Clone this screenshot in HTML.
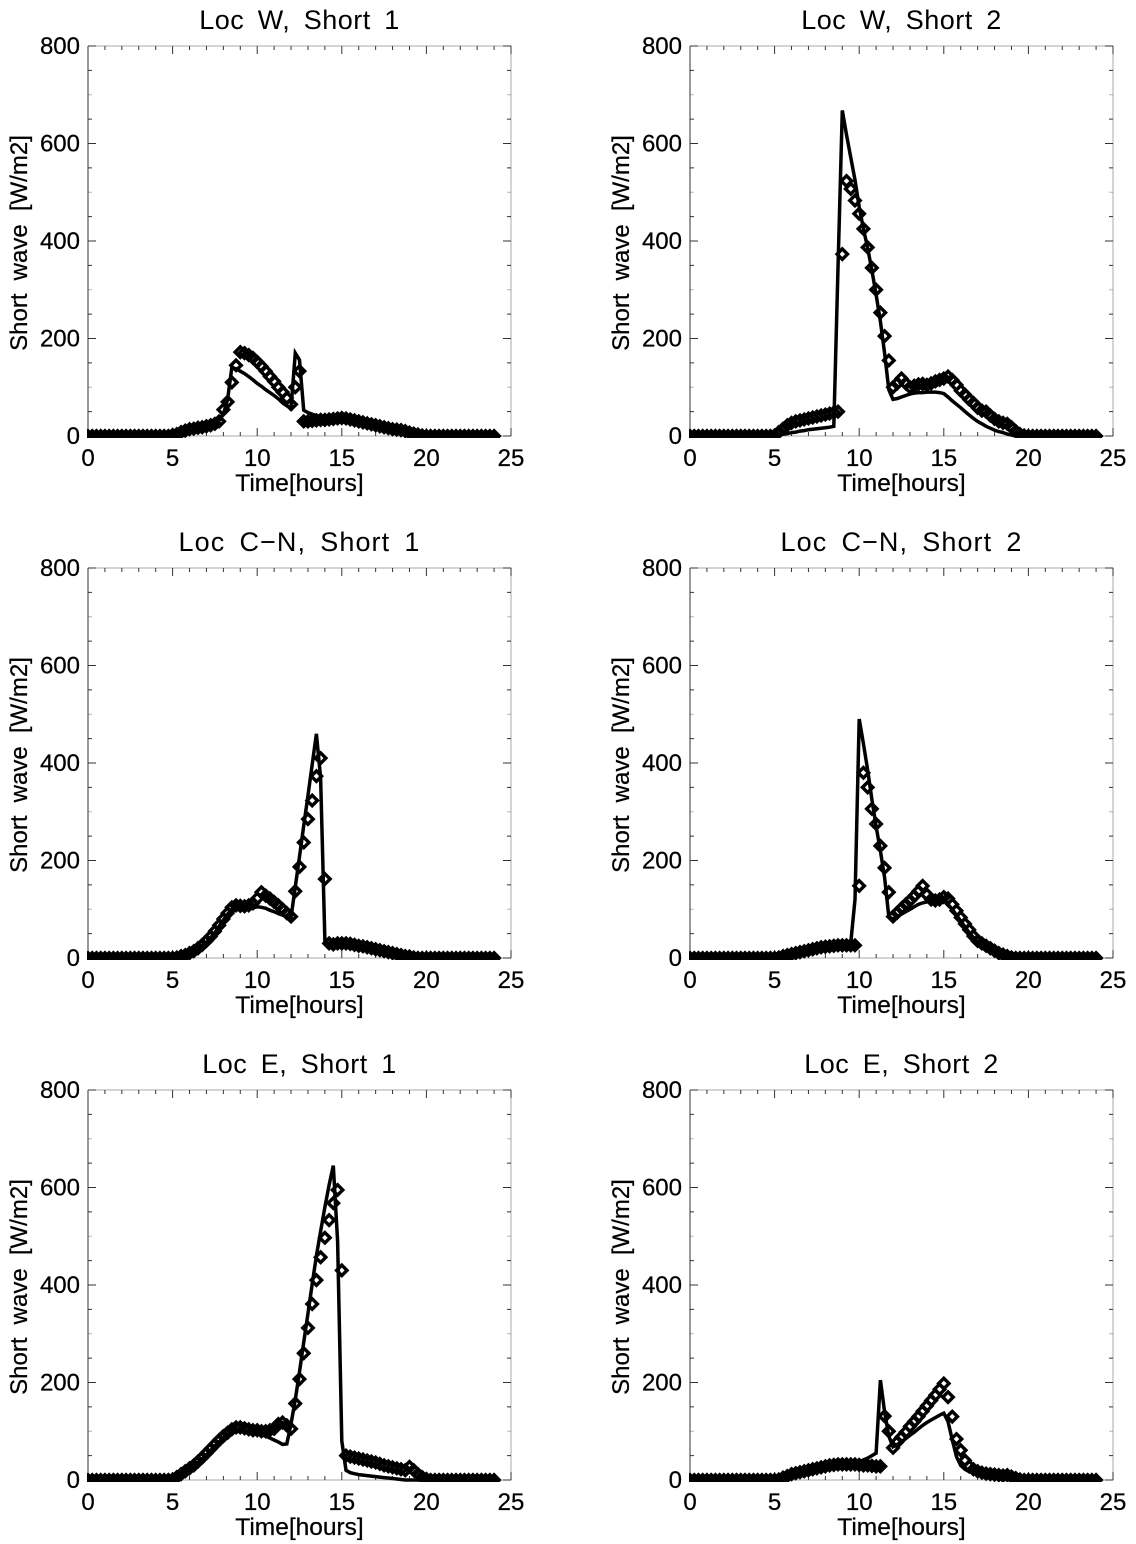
<!DOCTYPE html>
<html>
<head>
<meta charset="utf-8">
<title>Short wave panels</title>
<style>
html,body{margin:0;padding:0;background:#fff;width:1136px;height:1544px;overflow:hidden}
svg{display:block}
text{font-family:"Liberation Sans",sans-serif;fill:#000}
</style>
</head>
<body>
<svg id="chart" xmlns="http://www.w3.org/2000/svg" width="1136" height="1544" viewBox="0 0 1136 1544"></svg>
<script>
const hours = [
0,0.25,0.5,0.75,1,1.25,1.5,1.75,2,2.25,2.5,2.75,3,3.25,3.5,3.75,4,4.25,4.5,4.75,
5,5.25,5.5,5.75,6,6.25,6.5,6.75,7,7.25,7.5,7.75,8,8.25,8.5,8.75,9,9.25,9.5,9.75,
10,10.25,10.5,10.75,11,11.25,11.5,11.75,12,12.25,12.5,12.75,13,13.25,13.5,13.75,14,14.25,14.5,14.75,
15,15.25,15.5,15.75,16,16.25,16.5,16.75,17,17.25,17.5,17.75,18,18.25,18.5,18.75,19,19.25,19.5,19.75,
20,20.25,20.5,20.75,21,21.25,21.5,21.75,22,22.25,22.5,22.75,23,23.25,23.5,23.75,24];

const xTickLabels = ["0","5","10","15","20","25"];
const yTickLabels = ["0","200","400","600","800"];

const w1Line = [
0,0,0,0, 0,0,0,0, 0,0,0,0, 0,0,0,0, 0,0,0,0,
0,2,4,7, 10,12,14,17, 20,23,27,32, 45,75,140,138, 133,128,122,115,
108,102,95,89, 83,76,68,62, 57,170,156,53, 48,45,42,40, 38,37,37,36,
35,34,32,30, 28,26,24,22, 20,18,16,14, 12,10,9,7, 5,3,1,0,
0,0,0,0, 0,0,0,0, 0,0,0,0, 0,0,0,0, 0];
const w1Obs = [
0,0,0,0, 0,0,0,0, 0,0,0,0, 0,0,0,0, 0,0,0,0,
2,4,8,11, 14,15,17,18, 20,22,25,30, 54,70,110,145, 172,170,166,160,
152,143,133,122, 112,100,90,78, 65,100,133,30, 30,31,32,33, 33,34,35,36,
37,36,34,32, 30,28,26,24, 22,20,18,16, 14,13,12,10, 7,5,3,1,
0,0,0,0, 0,0,0,0, 0,0,0,0, 0,0,0,0, 0];

const w2Line = [
0,0,0,0, 0,0,0,0, 0,0,0,0, 0,0,0,0, 0,0,0,0,
0,2,4,5, 7,8,10,11, 13,14,15,16, 17,18,20,345, 668,618,572,525,
470,425,385,340, 290,235,170,95, 75,77,80,83, 86,88,89,89, 90,90,90,89,
87,80,72,65, 58,50,43,36, 30,25,20,16, 12,9,7,4, 2,0,0,0,
0,0,0,0, 0,0,0,0, 0,0,0,0, 0,0,0,0, 0];
const w2Obs = [
0,0,0,0, 0,0,0,0, 0,0,0,0, 0,0,0,0, 0,0,0,0,
1,8,15,22, 27,30,32,34, 36,38,40,42, 44,46,48,50, 373,523,507,483,
456,425,387,345, 300,253,205,155, 100,108,118,108, 100,103,106,107, 105,108,112,115,
118,122,115,105, 93,85,75,68, 58,52,50,42, 35,30,27,25, 18,10,4,1,
0,0,0,0, 0,0,0,0, 0,0,0,0, 0,0,0,0, 0];

const cn1Line = [
0,0,0,0, 0,0,0,0, 0,0,0,0, 0,0,0,0, 0,0,0,0,
0,1,3,5, 8,12,18,25, 32,42,52,65, 78,90,100,105, 103,102,102,103,
105,104,102,98, 95,91,88,85, 83,146,208,271, 334,397,460,370, 35,28,27,28,
29,29,28,26, 24,22,20,18, 16,14,12,10, 8,6,5,3, 2,1,0,0,
0,0,0,0, 0,0,0,0, 0,0,0,0, 0,0,0,0, 0];
const cn1Obs = [
0,0,0,0, 0,0,0,0, 0,0,0,0, 0,0,0,0, 0,0,0,0,
0,1,4,6, 10,14,20,27, 35,44,55,67, 80,92,104,108, 107,106,108,112,
122,135,128,122, 115,108,100,92, 85,137,187,237, 285,323,373,410, 162,30,28,30,
30,30,29,27, 25,24,22,20, 18,16,14,12, 10,8,6,4, 3,1,0,0,
0,0,0,0, 0,0,0,0, 0,0,0,0, 0,0,0,0, 0];

const cn2Line = [
0,0,0,0, 0,0,0,0, 0,0,0,0, 0,0,0,0, 0,0,0,0,
0,1,3,5, 7,9,11,13, 15,17,19,21, 23,25,27,28, 29,29,30,120,
490,440,385,325, 270,220,165,85, 80,85,90,95, 100,105,110,113, 115,117,118,118,
118,110,100,88, 76,64,52,42, 32,26,21,16, 11,7,4,2, 1,0,0,0,
0,0,0,0, 0,0,0,0, 0,0,0,0, 0,0,0,0, 0];
const cn2Obs = [
0,0,0,0, 0,0,0,0, 0,0,0,0, 0,0,0,0, 0,0,0,0,
0,1,4,6, 8,10,12,14, 16,18,20,22, 23,24,25,26, 26,26,26,26,
148,380,350,306, 275,230,185,135, 85,93,102,110, 118,127,137,148, 130,120,118,120,
125,122,110,97, 83,70,58,45, 35,30,25,20, 15,10,7,4, 1,0,0,0,
0,0,0,0, 0,0,0,0, 0,0,0,0, 0,0,0,0, 0];

const e1Line = [
0,0,0,0, 0,0,0,0, 0,0,0,0, 0,0,0,0, 0,0,0,0,
0,5,10,16, 22,29,36,44, 52,61,70,78, 86,92,97,99, 100,99,98,96,
95,93,90,86, 82,78,73,74, 115,165,222,282, 342,402,460,510, 560,605,645,490,
80,20,15,13, 11,10,9,8, 7,6,5,4, 3,2,1,0, 0,0,0,0,
0,0,0,0, 0,0,0,0, 0,0,0,0, 0,0,0,0, 0];
const e1Obs = [
0,0,0,0, 0,0,0,0, 0,0,0,0, 0,0,0,0, 0,0,0,0,
1,6,12,18, 24,30,38,46, 55,64,73,82, 90,97,104,108, 108,106,104,102,
102,100,100,102, 105,115,118,112, 105,157,207,260, 312,361,410,457, 497,533,568,595,
430,50,48,46, 44,42,40,38, 36,33,30,28, 26,24,22,20, 27,20,12,6,
2,0,0,0, 0,0,0,0, 0,0,0,0, 0,0,0,0, 0];

const e2Line = [
0,0,0,0, 0,0,0,0, 0,0,0,0, 0,0,0,0, 0,0,0,0,
0,1,3,6, 10,13,15,18, 20,22,24,26, 28,30,31,32, 33,34,35,36,
38,41,45,50, 55,205,140,90, 68,73,78,85, 92,98,105,112, 118,123,128,133,
137,120,82,48, 30,22,17,14, 12,10,9,8, 7,7,6,5, 4,2,1,0,
0,0,0,0, 0,0,0,0, 0,0,0,0, 0,0,0,0, 0];
const e2Obs = [
0,0,0,0, 0,0,0,0, 0,0,0,0, 0,0,0,0, 0,0,0,0,
0,1,5,8, 12,14,16,18, 20,22,24,26, 28,30,31,32, 32,32,32,32,
31,30,30,29, 28,28,131,100, 66,78,88,98, 110,120,130,141, 152,163,174,186,
198,170,130,84, 61,40,28,22, 18,15,13,12, 11,10,9,10, 7,4,1,0,
0,0,0,0, 0,0,0,0, 0,0,0,0, 0,0,0,0, 0];

const panelTitles = ["Loc W, Short 1","Loc W, Short 2","Loc C\u2212N, Short 1","Loc C\u2212N, Short 2","Loc E, Short 1","Loc E, Short 2"];
const panelKeys = ["loc-w-short-1","loc-w-short-2","loc-c-n-short-1","loc-c-n-short-2","loc-e-short-1","loc-e-short-2"];
const lineSeries = [w1Line,w2Line,cn1Line,cn2Line,e1Line,e2Line];
const obsSeries = [w1Obs,w2Obs,cn1Obs,cn2Obs,e1Obs,e2Obs];

const NS = "http://www.w3.org/2000/svg";
const svg = document.getElementById("chart");
const plotW = 423, plotH = 390;
const xMax = 25, yMax = 800;
const lefts = [88,690];
const tops = [46,568,1090];

function mk(parent, tag, attrs){
  const e = document.createElementNS(NS, tag);
  for (const k in attrs) e.setAttribute(k, attrs[k]);
  parent.appendChild(e);
  return e;
}

const defs = mk(svg, "defs", {});

function drawPanel(idx){
  const ox = lefts[idx % 2], oy = tops[Math.floor(idx / 2)];
  const X = v => ox + v / xMax * plotW;
  const Y = v => oy + plotH - v / yMax * plotH;
  const g = mk(svg, "g", {});
  
  

  const clip = mk(defs, "clipPath", {id:"clip" + idx});
  mk(clip, "rect", {x:ox-1, y:oy-1, width:plotW+2, height:plotH+3});

  const frame = mk(g, "path", {d:`M${ox} ${oy}H${ox+plotW}V${oy+plotH}H${ox}`, fill:"none", stroke:"#a8a8a8", "stroke-width":1});
  
  
  const yAxis = mk(g, "line", {x1:ox, x2:ox, y1:oy, y2:oy+plotH, stroke:"#333", "stroke-width":1});
  
  

  const ticks = mk(g, "g", {stroke:"#333", "stroke-width":1});
  
  
  for (let h = 0; h <= xMax; h++){
    const len = h % 5 === 0 ? 8 : 4;
    mk(ticks, "line", {x1:X(h), x2:X(h), y1:oy+plotH, y2:oy+plotH-len});
    mk(ticks, "line", {x1:X(h), x2:X(h), y1:oy, y2:oy+len});
  }
  for (let v = 0; v <= yMax; v += 50){
    const len = v % 200 === 0 ? 8 : 4;
    mk(ticks, "line", {x1:ox, x2:ox+len, y1:Y(v), y2:Y(v), opacity: v % 100 === 0 && v % 200 !== 0 ? 0.35 : 1});
    mk(ticks, "line", {x1:ox+plotW, x2:ox+plotW-len, y1:Y(v), y2:Y(v), opacity: v % 100 === 0 && v % 200 !== 0 ? 0.35 : 1});
  }

  xTickLabels.forEach(l => {
    const t = mk(g, "text", {x:X(+l), y:oy+plotH+30, "text-anchor":"middle", "font-size":24, "stroke":"#000", "stroke-width":0.25});
    t.textContent = l;
    
    
  });
  yTickLabels.forEach(l => {
    const t = mk(g, "text", {x:ox-8, y:Y(+l)+8, "text-anchor":"end", "font-size":24, "stroke":"#000", "stroke-width":0.25});
    t.textContent = l;
    
    
  });

  const title = mk(g, "text", {x:ox+plotW/2, y:oy-17, "text-anchor":"middle", "font-size":27, "letter-spacing":panelTitles[idx].includes("\u2212") ? 1.1 : 0.5, "word-spacing":5.5});
  title.textContent = panelTitles[idx];
  
  

  const xt = mk(g, "text", {x:ox+plotW/2, y:oy+plotH+55, "text-anchor":"middle", "font-size":24.5, "stroke":"#000", "stroke-width":0.25});
  xt.textContent = "Time[hours]";
  
  

  const yx = ox - 61, yy = oy + 197;
  const yt = mk(g, "text", {x:yx, y:yy, "text-anchor":"middle", "font-size":24, "word-spacing":6.5, "stroke":"#000", "stroke-width":0.25, transform:`rotate(-90 ${yx} ${yy})`});
  yt.textContent = "Short wave [W/m2]";
  
  

  const pts = hours.map((h,i) => X(h).toFixed(1) + "," + Y(lineSeries[idx][i]).toFixed(1)).join(" ");
  const line = mk(g, "polyline", {points:pts, fill:"none", stroke:"#000", "stroke-width":3.5, "stroke-linejoin":"miter", "stroke-miterlimit":6});
  
  

  const marks = mk(g, "g", {fill:"none", stroke:"#000", "stroke-width":3.4, "clip-path":`url(#clip${idx})`});
  
  
  hours.forEach((h,i) => {
    const cx = X(h), cy = Y(obsSeries[idx][i]), r = 5.2;
    const d = mk(marks, "path", {d:`M${cx-r} ${cy}L${cx} ${cy-r}L${cx+r} ${cy}L${cx} ${cy+r}Z`});
    
    
  });
}

panelTitles.forEach((_, i) => drawPanel(i));
</script>
</body>
</html>
